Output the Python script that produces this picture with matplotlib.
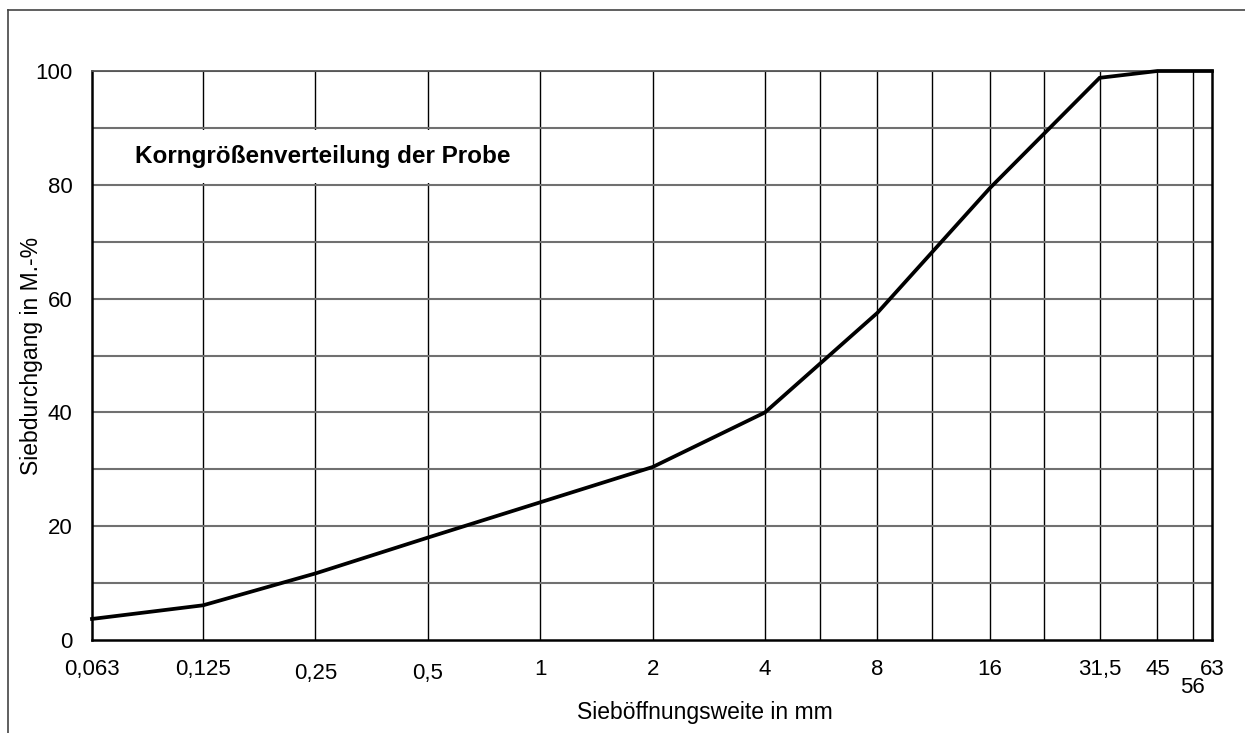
import matplotlib.pyplot as plt
import matplotlib.transforms as mtransforms
import numpy as np

plt.rcParams['font.family'] = ['Liberation Sans', 'DejaVu Sans']

# Sieve sizes (mm) and passing (mass-%)
sizes = [0.063, 0.125, 0.25, 0.5, 1, 2, 4, 8, 16, 31.5, 45, 56, 63]
passing = [3.7, 6.1, 11.7, 18.0, 24.2, 30.4, 40.0, 57.5, 79.4, 98.8, 100, 100, 100]

# vertical grid lines (labelled sieves plus intermediate ones)
grid_x = [0.125, 0.25, 0.5, 1, 2, 4, 5.6, 8, 11.2, 16, 22.4, 31.5, 45, 56]
tick_labels = ['0,063', '0,125', '0,25', '0,5', '1', '2', '4', '8', '16',
               '31,5', '45', '56', '63']
label_drop = [0, 0, 4, 4, 0, 0, 0, 0, 0, 0, 0, 18, 0]  # px, staggered labels
y_ticks = [0, 20, 40, 60, 80, 100]

fig = plt.figure(figsize=(12.45, 7.33), dpi=100)
ax = fig.add_axes([92 / 1245, 1 - 640 / 733, 1120 / 1245, 569 / 733])

ax.set_xscale('log')
ax.set_xlim(0.063, 63)
ax.set_ylim(0, 100)

# grid
for gx in grid_x:
    ax.axvline(gx, color='black', lw=1.0, zorder=1)
for gy in range(10, 101, 10):
    ax.axhline(gy, color='#707070', lw=1.5, zorder=1)

ax.plot(sizes, passing, color='black', lw=2.7, zorder=4, clip_on=False,
        solid_joinstyle='miter')

ax.text(0.0822, 85, 'Korngrößenverteilung der Probe', fontsize=17.5,
        fontweight='bold', va='center', ha='left', zorder=3,
        bbox=dict(facecolor='white', edgecolor='none', pad=11))

# axes appearance
for side in ['left', 'bottom', 'right']:
    ax.spines[side].set_linewidth(1.8)
    ax.spines[side].set_color('black')
ax.spines['top'].set_color('#555555')
ax.spines['top'].set_linewidth(1.3)

ax.set_xticks([])
ax.set_xticks([], minor=True)
ax.set_yticks(y_ticks)
ax.set_yticklabels([str(v) for v in y_ticks], fontsize=16)
ax.tick_params(axis='y', length=0, pad=14)

# x tick labels, staggered like the original
trans = ax.get_xaxis_transform()
for xv, lab, drop in zip(sizes, tick_labels, label_drop):
    off = mtransforms.ScaledTranslation(0, -(19 + drop) / 100, fig.dpi_scale_trans)
    ax.text(xv, 0, lab, transform=trans + off, ha='center', va='top', fontsize=16)

ax.set_ylabel('Siebdurchgang in M.-%', fontsize=16.5)
ax.yaxis.set_label_coords((43 - 92) / 1120, 0.5)
fig.text(705 / 1245, 1 - 712 / 733, 'Sieböffnungsweite in mm', fontsize=16.5,
         ha='center', va='center')

# outer frame (top and left edges)
fig.add_artist(plt.Line2D([8 / 1245, 1], [1 - 10 / 733, 1 - 10 / 733],
                          color='#444444', lw=1.2, transform=fig.transFigure))
fig.add_artist(plt.Line2D([8 / 1245, 8 / 1245], [0, 1 - 10 / 733],
                          color='#444444', lw=1.2, transform=fig.transFigure))

fig.savefig('out.png', dpi=100)
